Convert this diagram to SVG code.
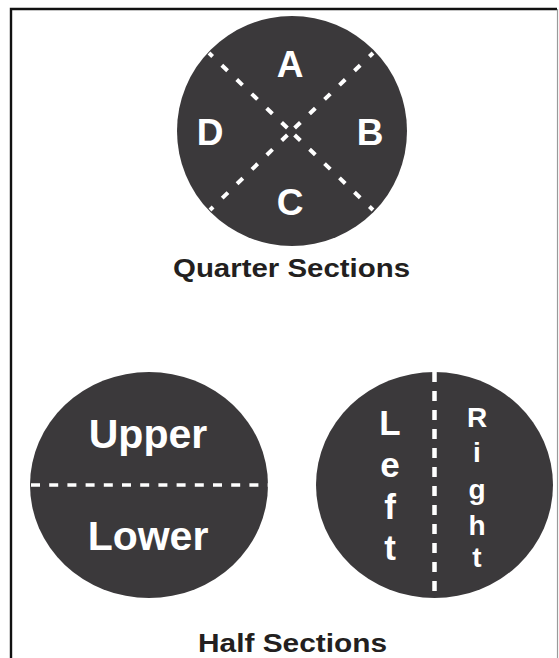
<svg xmlns="http://www.w3.org/2000/svg" width="559" height="658" viewBox="0 0 559 658">
<style>
.disc{fill:#3b393b}
.dash{stroke:#ffffff;fill:none}
.lab{font-family:"Liberation Sans",Arial,sans-serif;font-weight:bold;fill:#ffffff;text-anchor:middle}
.cap{font-family:"Liberation Sans",Arial,sans-serif;font-weight:bold;fill:#231f20}
</style>
<rect x="0" y="0" width="559" height="658" fill="#ffffff"/>
<g id="frame">
<path d="M11,670 V9 H557" fill="none" stroke="#111" stroke-width="2.4"/>
<line x1="557.5" y1="9" x2="557.5" y2="670" stroke="#9a9a9a" stroke-width="1.2"/>
</g>
<g id="quarter">
<circle class="disc" cx="292" cy="131" r="115"/>
<text class="lab" x="290" y="77" font-size="37">A</text>
<text class="lab" x="370" y="145" font-size="37">B</text>
<text class="lab" x="290" y="215" font-size="37">C</text>
<text class="lab" x="210" y="145" font-size="37">D</text>
</g>
<g id="half-ul">
<ellipse class="disc" cx="149" cy="485" rx="119" ry="113"/>
<text class="lab" x="148" y="448" font-size="41">Upper</text>
<text class="lab" x="148" y="550" font-size="41">Lower</text>
</g>
<g id="half-lr">
<ellipse class="disc" cx="434.5" cy="485" rx="118.5" ry="113"/>
<text class="lab" font-size="35" x="390"><tspan x="390" y="435">L</tspan><tspan x="390" y="477">e</tspan><tspan x="390" y="519">f</tspan><tspan x="390" y="560">t</tspan></text>
<text class="lab" font-size="28" x="477"><tspan x="477" y="427">R</tspan><tspan x="477" y="462">i</tspan><tspan x="477" y="499">g</tspan><tspan x="477" y="535">h</tspan><tspan x="477" y="567">t</tspan></text>
</g>
<g id="connectors">
<g class="dash" stroke-width="4" stroke-dasharray="8 12.7" stroke-dashoffset="15.7">
<line x1="291" y1="131.5" x2="209" y2="53"/>
<line x1="291" y1="131.5" x2="373" y2="53"/>
<line x1="291" y1="131.5" x2="210" y2="210"/>
<line x1="291" y1="131.5" x2="373" y2="210"/>
</g>
<line class="dash" x1="31" y1="485" x2="269" y2="485" stroke-width="3.5" stroke-dasharray="9 9.2"/>
<line class="dash" x1="434.5" y1="372" x2="434.5" y2="598" stroke-width="4.5" stroke-dasharray="10 9"/>
</g>
<g id="captions">
<text class="cap" x="173" y="277" font-size="25" textLength="237" lengthAdjust="spacingAndGlyphs">Quarter Sections</text>
<text class="cap" x="198" y="652" font-size="26" textLength="189" lengthAdjust="spacingAndGlyphs">Half Sections</text>
</g>
</svg>
